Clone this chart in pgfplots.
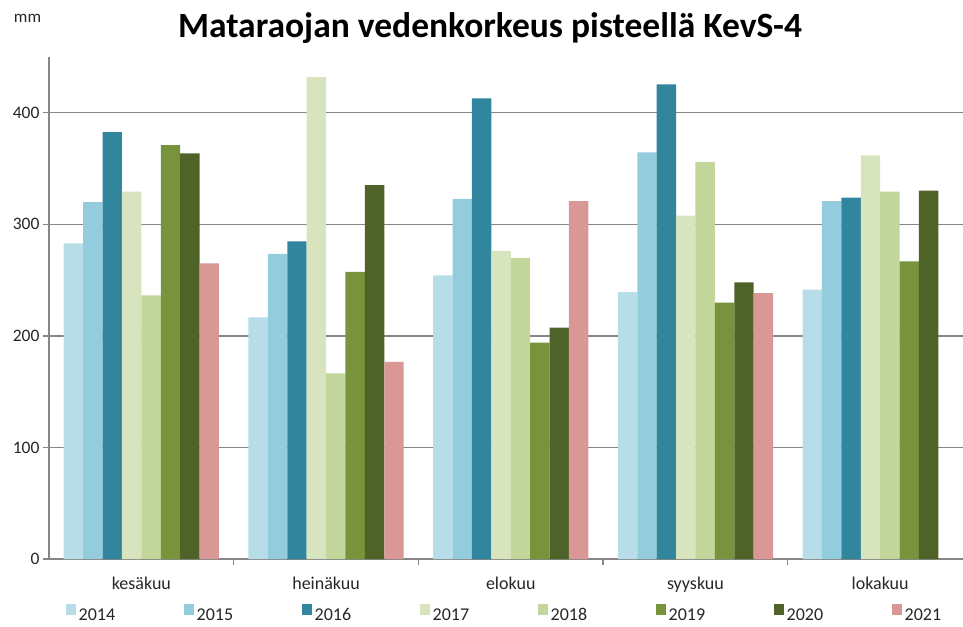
\documentclass[border=0pt]{standalone}
\usepackage{fontspec}
\setmainfont{Carlito}[Numbers=Lining]
\usepackage{pgfplots}
\pgfplotsset{compat=1.18}

\definecolor{c2014}{HTML}{B7DEE8}
\definecolor{c2015}{HTML}{93CDDD}
\definecolor{c2016}{HTML}{31859C}
\definecolor{c2017}{HTML}{D7E4BD}
\definecolor{c2018}{HTML}{C3D69B}
\definecolor{c2019}{HTML}{77933C}
\definecolor{c2020}{HTML}{4F6228}
\definecolor{c2021}{HTML}{D99795}
\definecolor{gridgray}{HTML}{868686}
\definecolor{txt}{HTML}{262626}

\newcommand{\tl}{\fontsize{17.5}{21}\selectfont}

% month index: 0 kesakuu, 1 heinakuu, 2 elokuu, 3 syyskuu, 4 lokakuu
\begin{document}
\begin{tikzpicture}
\begin{axis}[
    scale only axis,
    width=914pt, height=502pt,
    ybar=0pt, bar width=19.4pt,
    xmin=-0.5, xmax=4.4486,
    ymin=0, ymax=450,
    axis lines*=left,
    axis line style={gridgray, line width=1.3pt},
    xtick={0,1,2,3,4},
    xticklabels={kesäkuu,heinäkuu,elokuu,syyskuu,lokakuu},
    major x tick style={draw=none},
    minor xtick={0.5,1.5,2.5,3.5},
    minor tick length=6pt,
    ytick={0,100,200,300,400},
    yticklabels={{\tl 0},{\tl 100},{\tl 200},{\tl 300},{\tl 400}},
    major tick length=6pt,
    tick align=outside,
    tick style={gridgray, line width=1.3pt},
    ymajorgrids,
    grid style={gridgray, line width=1.3pt},
    xticklabel style={font=\fontsize{18}{21}\selectfont, text=txt, anchor=base, yshift=-24pt},
    yticklabel style={text=txt, anchor=east},
    title={Mataraojan vedenkorkeus pisteellä KevS-4},
    title style={font=\fontsize{35.5}{40}\selectfont\bfseries, at={(0.4825,1)}, anchor=base, yshift=13pt},
    legend columns=8,
    legend style={at={(0.0186,-0.1055)}, anchor=west, draw=none, fill=none,
        inner sep=0pt, font=\fontsize{18}{21}\selectfont, text=txt,
        nodes={inner xsep=0pt, inner ysep=0pt, text height=12.5pt, text depth=0pt},
        /tikz/every odd column/.append style={column sep=2.5pt},
        /tikz/every even column/.append style={column sep=69pt}},
    legend image code/.code={\fill[#1] (0pt,-0.5pt) rectangle (10pt,10.5pt);},
    every axis plot/.append style={draw=none},
]
\addplot[fill=c2014] coordinates {(0,283.0) (1,216.6) (2,254.3) (3,239.3) (4,241.4)};
\addplot[fill=c2015] coordinates {(0,319.8) (1,273.5) (2,322.8) (3,364.4) (4,320.7)};
\addplot[fill=c2016] coordinates {(0,382.7) (1,284.8) (2,412.9) (3,425.4) (4,324.0)};
\addplot[fill=c2017] coordinates {(0,329.4) (1,432.0) (2,276.1) (3,307.9) (4,361.7)};
\addplot[fill=c2018] coordinates {(0,236.4) (1,166.3) (2,269.9) (3,356.0) (4,329.4)};
\addplot[fill=c2019] coordinates {(0,371.0) (1,257.3) (2,193.9) (3,229.8) (4,266.9)};
\addplot[fill=c2020] coordinates {(0,363.5) (1,335.1) (2,207.3) (3,248.0) (4,330.3)};
\addplot[fill=c2021] coordinates {(0,265.1) (1,176.8) (2,320.7) (3,238.4)};
\legend{2014,2015,2016,2017,2018,2019,2020,2021}
\end{axis}
\node[font=\fontsize{17}{20}\selectfont, text=txt, anchor=base] at (-21.5pt,536pt) {mm};
\pgfresetboundingbox
\path[use as bounding box] (-49pt,-67pt) rectangle (914pt,559pt);
\end{tikzpicture}
\end{document}
